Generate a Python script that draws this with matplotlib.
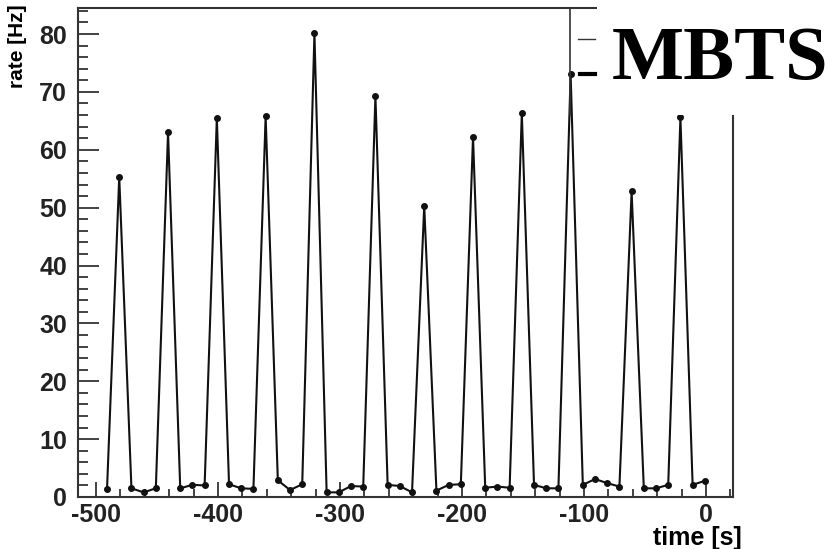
import numpy as np
import matplotlib
matplotlib.use('Agg')
import matplotlib.pyplot as plt
from matplotlib.lines import Line2D
from matplotlib.patches import Rectangle

# MBTS rate vs time (one point every ~10 s)
time_s = [-491, -481, -471, -461, -451, -441, -431, -421, -411, -401,
          -391, -381, -371, -361, -351, -341, -331, -321, -311, -301,
          -291, -281, -271, -261, -251, -241, -231, -221, -211, -201,
          -191, -181, -171, -161, -151, -141, -131, -121, -111, -101,
          -91, -81, -71, -61, -51, -41, -31, -21, -11, -1]
rate_hz = [1.4, 55.3, 1.5, 0.8, 1.5, 63.0, 1.5, 2.1, 2.0, 65.5,
           2.2, 1.5, 1.4, 65.8, 2.9, 1.2, 2.2, 80.1, 0.8, 0.8,
           1.9, 1.8, 69.3, 2.1, 1.9, 0.8, 50.3, 1.1, 2.1, 2.2,
           62.2, 1.6, 1.8, 1.6, 66.3, 2.1, 1.5, 1.5, 73.1, 2.1,
           3.1, 2.4, 1.8, 52.8, 1.5, 1.5, 2.1, 65.6, 2.1, 2.8]

xticks = [-500, -400, -300, -200, -100, 0]
yticks = [0, 10, 20, 30, 40, 50, 60, 70, 80]

W, H = 828, 549
fig = plt.figure(figsize=(W / 100, H / 100), dpi=100)
ax = fig.add_axes([78 / W, 1 - 497 / H, (733 - 78) / W, (497 - 8) / H])

ax.plot(time_s, rate_hz, color='#111111', lw=1.5, marker='o', ms=4.0,
        mfc='#111111', mec='#111111')

ax.set_xlim(-514.8, 22.1)
ax.set_ylim(0, 84.5)
ax.set_xticks(xticks)
ax.set_yticks(yticks)
ax.set_xticks(np.arange(-500, 21, 20), minor=True)
ax.set_yticks(np.arange(0, 85, 2), minor=True)

font = dict(family='Liberation Sans', weight='bold', size=18)
ax.set_xticklabels([str(v) for v in xticks], **font)
ax.set_yticklabels([str(v) for v in yticks], **font)
ax.tick_params(axis='x', which='major', direction='in', length=11, width=1.2, pad=4, colors='#222222')
ax.tick_params(axis='x', which='minor', direction='in', length=5.5, width=1.2, colors='#222222')
ax.tick_params(axis='y', which='major', direction='in', length=15, width=1.2, pad=8, colors='#222222')
ax.tick_params(axis='y', which='minor', direction='in', length=7.5, width=1.2, colors='#222222')
for s in ax.spines.values():
    s.set_linewidth(1.5)
    s.set_color('#333333')

fig.text(742 / W, 1 - 526 / H, 'time [s]', ha='right', va='top', **font)
fig.text(18 / W, 1 - 4 / H, 'rate [Hz]', ha='center', va='top', rotation=90,
         family='Liberation Sans', weight='bold', size=15)

# legend box with the pasted MBTS label over it
fig.add_artist(Rectangle((597 / W, 1 - 115 / H), 1, 115 / H, transform=fig.transFigure,
                         facecolor='white', edgecolor='none', zorder=5))
fig.add_artist(Line2D([570 / W, 570 / W], [1 - 8 / H, 1 - 115 / H], transform=fig.transFigure,
                      color='#333333', lw=1.2, zorder=6))
fig.add_artist(Line2D([578 / W, 595 / W], [1 - 39 / H, 1 - 39 / H], transform=fig.transFigure,
                      color='#333333', lw=1.0, zorder=6))
fig.add_artist(Line2D([580 / W, 595 / W], [1 - 74 / H, 1 - 74 / H], transform=fig.transFigure,
                      color='black', lw=3.0, zorder=6))
fig.text(612 / W, 1 - 79 / H, 'MBTS', ha='left', va='baseline', family='Liberation Serif',
         weight='bold', size=55, zorder=7)

fig.savefig('out.png', dpi=100)
